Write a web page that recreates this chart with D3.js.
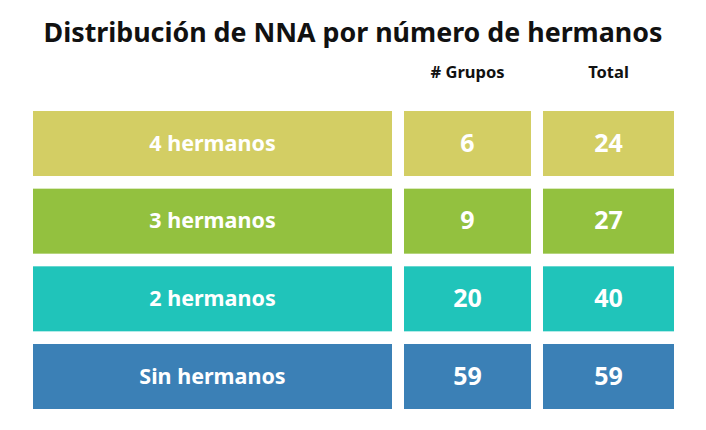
<!DOCTYPE html>
<html>
<head>
<meta charset="utf-8">
<script src="https://cdn.jsdelivr.net/npm/d3@7"></script>
<style>
  body { margin: 0; background: #fff; }
  text { font-family: "Noto Sans", "Open Sans", sans-serif; font-weight: 700; }
</style>
</head>
<body>
<div id="chart"></div>
<script>
const categories = ["4 hermanos", "3 hermanos", "2 hermanos", "Sin hermanos"];
const grupos = [6, 9, 20, 59];
const totales = [24, 27, 40, 59];
const columns = ["", "# Grupos", "Total"];
const colors = ["#d3ce64", "#93c13f", "#20c4ba", "#3b80b6"];

const width = 706, height = 430;

const svg = d3.select("#chart")
    .append("svg")
    .attr("width", width)
    .attr("height", height);

svg.append("text")
    .attr("x", 353)
    .attr("y", 42)
    .attr("text-anchor", "middle")
    .attr("font-size", 26.8)
    .attr("fill", "#111")
    .text("Distribución de NNA por número de hermanos");

const x = d3.scaleOrdinal()
    .domain(columns)
    .range([33, 404, 543]);
const colW = { "": 359, "# Grupos": 127, "Total": 131 };

const y = d3.scaleBand()
    .domain(categories)
    .range([111, 409])
    .paddingInner(0.163)
    .paddingOuter(0);

// column headers
svg.selectAll(".header")
    .data(columns.slice(1))
    .enter().append("text")
    .attr("class", "header")
    .attr("x", d => x(d) + colW[d] / 2)
    .attr("y", 78)
    .attr("text-anchor", "middle")
    .attr("font-size", 16.5)
    .attr("fill", "#111")
    .text(d => d);

const rows = categories.map((c, i) => ({
    cat: c,
    cells: [c, grupos[i], totales[i]],
    color: colors[i]
}));

const row = svg.selectAll(".row")
    .data(rows)
    .enter().append("g")
    .attr("class", "row")
    .attr("transform", d => `translate(0,${y(d.cat)})`);

const cell = row.selectAll(".cell")
    .data(d => d.cells.map((v, j) => ({ v, col: columns[j], color: d.color })))
    .enter().append("g")
    .attr("class", "cell");

cell.append("rect")
    .attr("x", d => x(d.col))
    .attr("width", d => colW[d.col])
    .attr("height", y.bandwidth())
    .attr("fill", d => d.color);

cell.append("text")
    .attr("x", d => x(d.col) + colW[d.col] / 2)
    .attr("y", y.bandwidth() / 2)
    .attr("dy", "0.33em")
    .attr("text-anchor", "middle")
    .attr("font-size", d => d.col === "" ? 21.5 : 25)
    .attr("fill", "#fff")
    .text(d => d.v);
</script>
</body>
</html>
